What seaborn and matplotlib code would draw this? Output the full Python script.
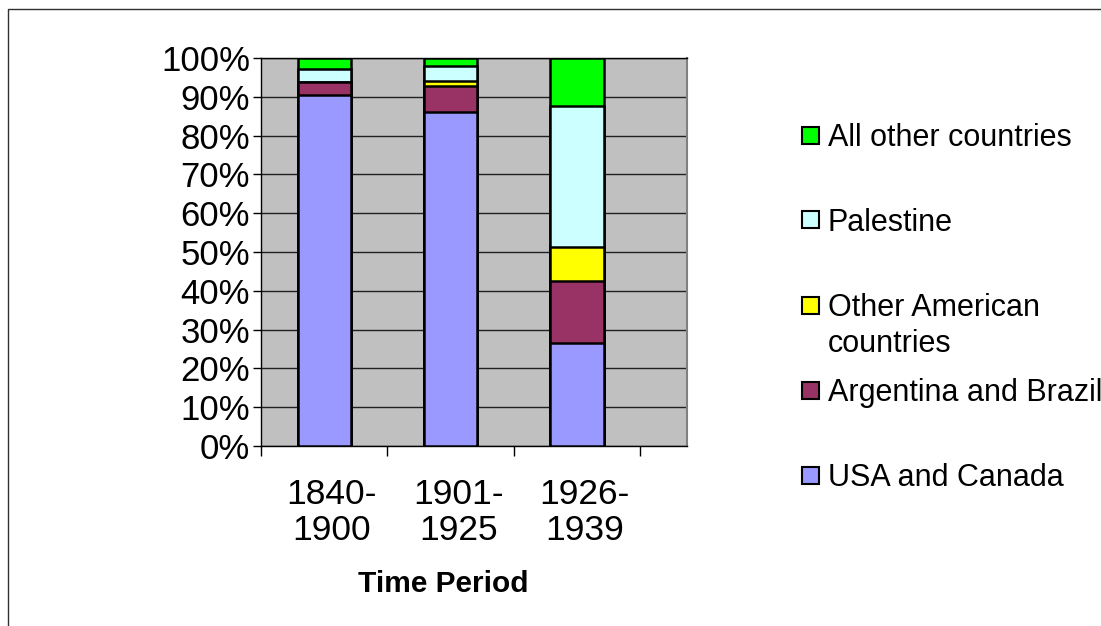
import matplotlib
matplotlib.use("Agg")
import matplotlib.pyplot as plt
import seaborn as sns
import numpy as np
import pandas as pd
from matplotlib.patches import Rectangle

periods = ["1840-\n1900", "1901-\n1925", "1926-\n1939"]
series_names = ["USA and Canada", "Argentina and Brazil", "Other American\ncountries",
                "Palestine", "All other countries"]
usa_canada = [90.5, 86.0, 26.5]
argentina_brazil = [3.2, 6.9, 16.0]
other_american = [0.0, 1.1, 8.9]
palestine = [3.4, 3.9, 36.2]
all_other = [2.9, 2.1, 12.4]
colors = ["#9999FF", "#993366", "#FFFF00", "#CCFFFF", "#00FF00"]

values = np.array([usa_canada, argentina_brazil, other_american, palestine, all_other])
shares = values / values.sum(axis=0) * 100
cum = np.cumsum(shares, axis=0)

sns.set_theme(style="white")
plt.rcParams['font.family'] = ['Liberation Sans', 'DejaVu Sans']
plt.rcParams['text.color'] = 'black'
plt.rcParams['xtick.color'] = 'black'
plt.rcParams['ytick.color'] = 'black'
plt.rcParams['axes.labelcolor'] = 'black'

W, H = 1101, 626
fig = plt.figure(figsize=(W / 100, H / 100), dpi=100)
fig.patch.set_facecolor("white")
fig.patches.append(Rectangle((8 / W, -1), 5, 2 - 9 / H, transform=fig.transFigure,
                             fill=False, edgecolor="#303030", linewidth=1.0))

ax = fig.add_axes([261 / W, 1 - 446 / H, (687 - 261) / W, (446 - 58) / H])
ax.set_facecolor("#C0C0C0")

# Overlay cumulative totals from top series down
for k in range(len(series_names) - 1, -1, -1):
    df = pd.DataFrame({"period": periods, "cum": cum[k]})
    sns.barplot(data=df, x="period", y="cum", color=colors[k], saturation=1,
                width=0.42, edgecolor="black", linewidth=1.8, ax=ax, zorder=3)

ax.set_xlim(-0.5, 2.87)
ax.set_ylim(0, 100)
ax.set_yticks(np.arange(0, 101, 10))
ax.set_yticklabels([f"{v}%" for v in range(0, 101, 10)], fontsize=25)
ax.yaxis.grid(True, color="#202020", linewidth=1.0, zorder=0)
ax.set_axisbelow(True)
ax.set_xticks([-0.5, 0.5, 1.5, 2.5])
ax.set_xticklabels([])
ax.tick_params(axis="y", which="both", direction="out", length=6, width=1, color="black",
               left=True, pad=2, labelcolor="black")
ax.tick_params(axis="x", direction="out", length=7, width=1, color="black", bottom=True)
for i, p in enumerate(periods):
    ax.text(i + 0.06, -0.083, p, transform=ax.get_xaxis_transform(), ha="center", va="top",
            fontsize=25.5, linespacing=1.12)
ax.set_xlabel("")
ax.set_ylabel("")
for s in ["left", "bottom", "top"]:
    ax.spines[s].set_color("black")
    ax.spines[s].set_linewidth(1.0)
ax.spines["right"].set_color("#808080")
ax.spines["right"].set_linewidth(1.5)

fig.text(443 / W, 1 - 584 / H, "Time Period", ha="center", va="center",
         fontsize=21.5, fontweight="bold")

# Legend (top entry first)
centers = [135, 220, 305, 390, 475]
order = list(range(len(series_names) - 1, -1, -1))
for c, k in zip(centers, order):
    fig.patches.append(Rectangle((802 / W, 1 - (c + 8.5) / H), 17 / W, 17 / H,
                                 transform=fig.transFigure, facecolor=colors[k],
                                 edgecolor="black", linewidth=1.5))
    fig.text(828 / W, 1 - (c - 12) / H, series_names[k], ha="left", va="top",
             fontsize=22, linespacing=1.25)

fig.savefig("out.png", dpi=100)
